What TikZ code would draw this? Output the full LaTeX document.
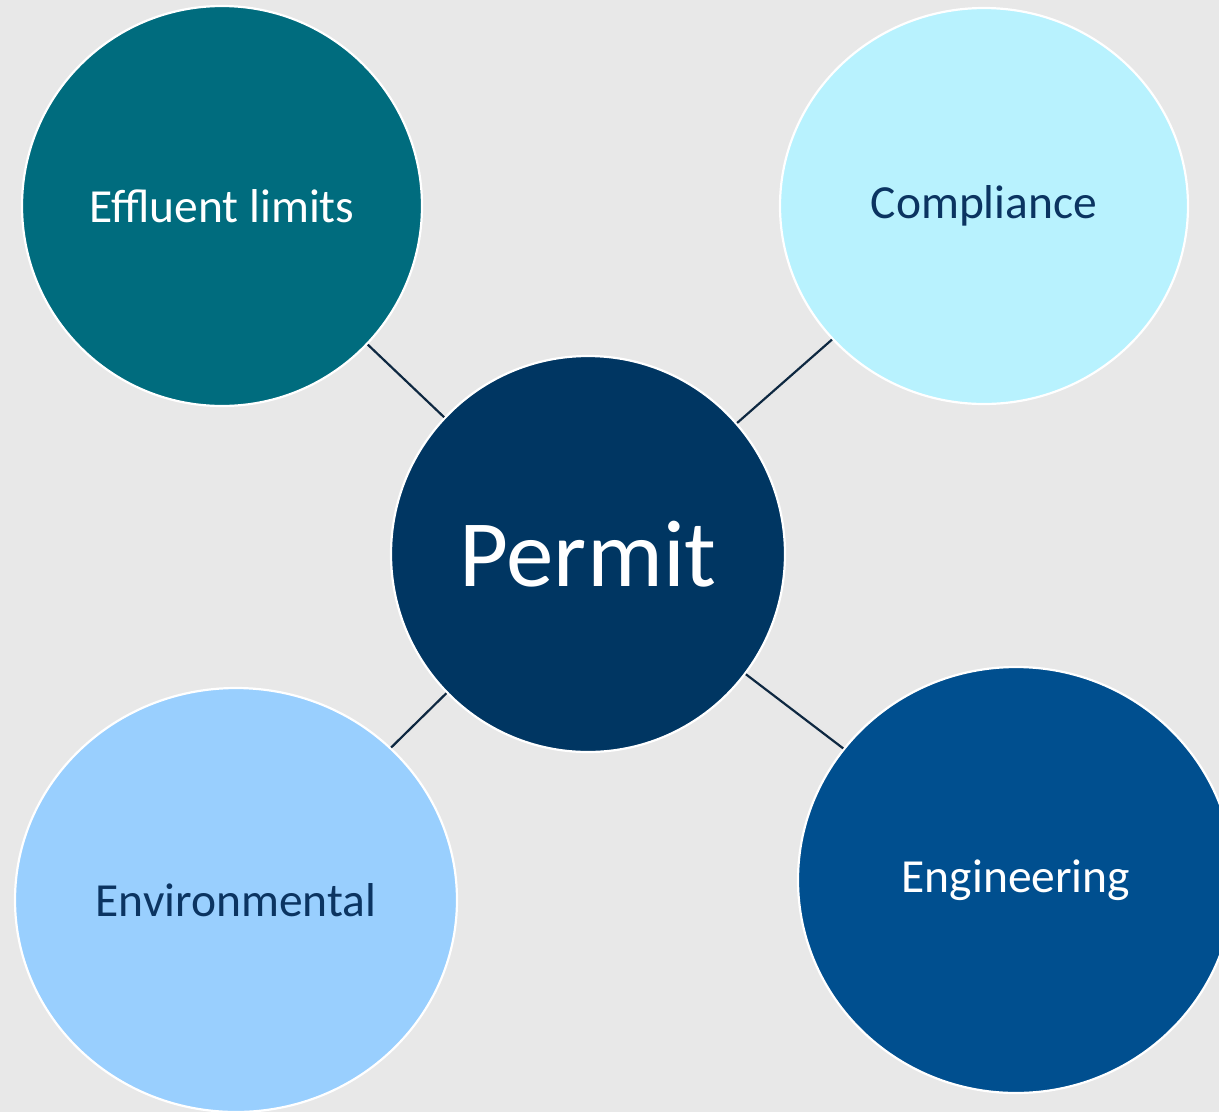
\documentclass[tikz,border=0pt]{standalone}
\usepackage{fontspec}
\setmainfont{Carlito}
\usetikzlibrary{shapes.geometric}
\definecolor{bg}{HTML}{E8E8E8}
\definecolor{teal}{HTML}{006C7E}
\definecolor{cyanlight}{HTML}{B8F2FE}
\definecolor{navy}{HTML}{003662}
\definecolor{skyblue}{HTML}{99CFFE}
\definecolor{midblue}{HTML}{004F8F}
\definecolor{linecol}{HTML}{0E2841}
\definecolor{darktext}{HTML}{0B3461}
\tikzset{
  bubble/.style={ellipse, draw=white, line width=2.2pt, inner sep=0pt,
    font=\fontsize{47.5}{56}\selectfont},
  link/.style={draw=linecol, line width=2.2pt}
}
\begin{document}
\begin{tikzpicture}[x=1pt,y=-1pt]
\useasboundingbox (0,0) rectangle (1219,1112);
\clip (0,0) rectangle (1219,1112);
\fill[bg] (0,0) rectangle (1219,1112);
\node[bubble, fill=teal, text=white, minimum width=400pt, minimum height=400pt] (eff) at (222,206) {Effluent limits};
\node[bubble, fill=cyanlight, text=darktext, minimum width=408pt, minimum height=396pt] (comp) at (984,206) {Compliance};
\node[bubble, fill=navy, text=white, minimum width=394pt, minimum height=396pt, font=\fontsize{95}{105}\selectfont] (permit) at (588,554) {Permit};
\node[bubble, fill=skyblue, text=darktext, minimum width=442pt, minimum height=424pt] (env) at (236,900) {Environmental};
\node[bubble, fill=midblue, text=white, minimum width=436pt, minimum height=426pt] (eng) at (1016,880) {Engineering};
\draw[link] (eff) -- (permit);
\draw[link] (comp) -- (permit);
\draw[link] (env) -- (permit);
\draw[link] (eng) -- (permit);
\end{tikzpicture}
\end{document}
